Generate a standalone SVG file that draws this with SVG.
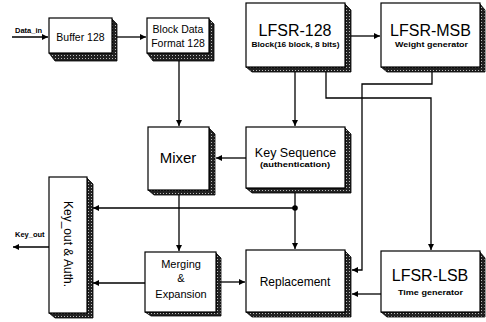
<svg xmlns="http://www.w3.org/2000/svg" width="486" height="322" viewBox="0 0 486 322">
  <defs>
    <pattern id="stip" width="3" height="3" patternUnits="userSpaceOnUse">
      <rect width="3" height="3" fill="#222"/>
      <rect x="1" y="1" width="1" height="1" fill="#bbb"/>
    </pattern>
    <marker id="arr" viewBox="0 0 10 10" refX="10" refY="5" markerWidth="6" markerHeight="6" markerUnits="userSpaceOnUse" orient="auto">
      <path d="M0,0 L10,5 L0,10 z" fill="#000"/>
    </marker>
  </defs>
  <style>
    .box { fill: #fff; stroke: #000; stroke-width: 1.2; }
    .shadow { fill: url(#stip); stroke: #000; stroke-width: 0.8; }
    .ln { fill: none; stroke: #000; stroke-width: 1.3; }
    text { font-family: "Liberation Sans", Arial, sans-serif; fill: #000; text-anchor: middle; }
    .t { font-size: 10.5px; }
    .tb { font-size: 8px; font-weight: bold; }
    .big { font-size: 16px; }
    .lbl { font-size: 7.5px; font-weight: bold; text-anchor: start; }
  </style>
  <rect width="486" height="322" fill="#fff"/>

  <g id="connectors">
    <path class="ln" d="M12,37 H48" marker-end="url(#arr)"/>
    <path class="ln" d="M117,37 H146" marker-end="url(#arr)"/>
    <path class="ln" d="M351,36 H380" marker-end="url(#arr)"/>
    <path class="ln" d="M179,61 V126" marker-end="url(#arr)"/>
    <path class="ln" d="M295,72 V126" marker-end="url(#arr)"/>
    <path class="ln" d="M246,158 H216" marker-end="url(#arr)"/>
    <path class="ln" d="M326,72 V98 H431 V250" marker-end="url(#arr)"/>
    <path class="ln" d="M432,72 V84 H362 V270 H352" marker-end="url(#arr)"/>
    <path class="ln" d="M295,193 V249" marker-end="url(#arr)"/>
    <path class="ln" d="M179,195 V251" marker-end="url(#arr)"/>
    <path class="ln" d="M295,208 H93" marker-end="url(#arr)"/>
    <circle cx="295" cy="208" r="2.8" fill="#000"/>
    <path class="ln" d="M145,283 H93" marker-end="url(#arr)"/>
    <path class="ln" d="M221,282 H245" marker-end="url(#arr)"/>
    <path class="ln" d="M381,294 H352" marker-end="url(#arr)"/>
    <path class="ln" d="M50,247 H13" marker-end="url(#arr)"/>
  </g>

  <g id="data-in-label"><text class="lbl" x="15" y="33">Data_in</text></g>
  <g id="key-out-label"><text class="lbl" x="15" y="237">Key_out</text></g>

  <g id="buffer">
    <polygon class="shadow" points="112,19 117,24 117,61 55,61 49,53 112,53"/>
    <rect class="box" x="49" y="18" width="63" height="35"/>
    <text class="t" x="80.5" y="41">Buffer 128</text>
  </g>

  <g id="block-data">
    <polygon class="shadow" points="209,19 214,24 214,61 153,61 147,53 209,53"/>
    <rect class="box" x="147" y="18" width="62" height="35"/>
    <text class="t" x="178" y="33">Block Data</text>
    <text class="t" x="178" y="47">Format 128</text>
  </g>

  <g id="lfsr-128">
    <polygon class="shadow" points="345,4 351,10 351,72 252,72 246,67 345,67"/>
    <rect class="box" x="246" y="3" width="99" height="64"/>
    <text class="big" x="295" y="36">LFSR-128</text>
    <text class="tb" x="295.5" y="47" textLength="88" lengthAdjust="spacingAndGlyphs">Block(16 block, 8 bits)</text>
  </g>

  <g id="lfsr-msb">
    <polygon class="shadow" points="480,4 485,10 485,72 387,72 381,67 480,67"/>
    <rect class="box" x="381" y="3" width="99" height="64"/>
    <text class="big" x="430.5" y="36">LFSR-MSB</text>
    <text class="tb" x="431.5" y="47" textLength="73" lengthAdjust="spacingAndGlyphs">Weight generator</text>
  </g>

  <g id="mixer">
    <polygon class="shadow" points="209,128 215,134 215,195 154,195 148,190 209,190"/>
    <rect class="box" x="148" y="127" width="61" height="63"/>
    <text x="178" y="163" style="font-size:15px">Mixer</text>
  </g>

  <g id="key-sequence">
    <polygon class="shadow" points="345,128 351,134 351,193 252,193 246,188 345,188"/>
    <rect class="box" x="246" y="127" width="99" height="61"/>
    <text x="295.5" y="157" style="font-size:12.5px">Key Sequence</text>
    <text class="tb" x="295" y="167" textLength="70" lengthAdjust="spacingAndGlyphs">(authentication)</text>
  </g>

  <g id="key-out-auth">
    <polygon class="shadow" points="87,178 93,184 93,318 55,318 49,313 87,313"/>
    <rect class="box" x="49" y="177" width="38" height="136"/>
    <text x="68" y="244" transform="rotate(90 68 244)" dy="4" style="font-size:12px">Key_out &amp; Auth.</text>
  </g>

  <g id="merging">
    <polygon class="shadow" points="216,253 221,258 221,316 151,316 145,312 216,312"/>
    <rect class="box" x="145" y="252" width="71" height="60"/>
    <text class="t" x="181" y="268" style="font-size:11px">Merging</text>
    <text class="t" x="181" y="282" style="font-size:11px">&amp;</text>
    <text class="t" x="181" y="298" style="font-size:11px">Expansion</text>
  </g>

  <g id="replacement">
    <polygon class="shadow" points="345,251 351,257 351,317 252,317 246,312 345,312"/>
    <rect class="box" x="246" y="250" width="99" height="62"/>
    <text x="295" y="286" style="font-size:12px">Replacement</text>
  </g>

  <g id="lfsr-lsb">
    <polygon class="shadow" points="480,252 485,258 485,317 387,317 381,312 480,312"/>
    <rect class="box" x="381" y="251" width="99" height="61"/>
    <text class="big" x="430" y="281">LFSR-LSB</text>
    <text class="tb" x="430.5" y="295" textLength="65" lengthAdjust="spacingAndGlyphs">Time generator</text>
  </g>
</svg>
